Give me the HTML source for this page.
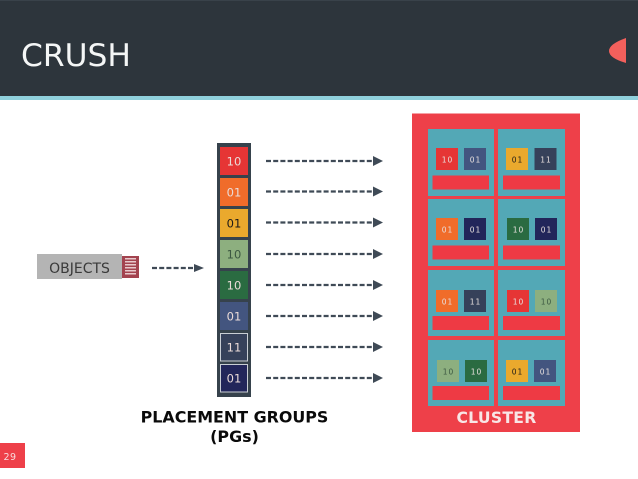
<!DOCTYPE html>
<html><head><meta charset="utf-8"><style>
html,body{margin:0;padding:0;background:#fff;width:638px;height:479px;overflow:hidden}
svg{display:block}
text{font-family:"DejaVu Sans","Liberation Sans",sans-serif;text-anchor:middle}
.c{font-size:11.5px;fill:#eadbd8}
.s{font-size:7.5px;fill:#e8e0de;letter-spacing:1px}
.d{fill:#1d1a18}
.g{fill:#3c5842}
.dash{stroke:#3f4a56;stroke-width:2.2;stroke-dasharray:5 2.2;fill:none}
.ah{fill:#3f4a56}
.node{fill:#53a8b6}
.bar{fill:#ee3a44}
</style></head><body>
<svg width="638" height="479" viewBox="0 0 638 479" xmlns="http://www.w3.org/2000/svg">
<rect width="638" height="479" fill="#fff"/>
<rect width="638" height="96" fill="#2d353c"/>
<rect width="638" height="1" fill="#39424a"/>
<rect y="96" width="638" height="4" fill="#8fd0dc"/>
<text x="76" y="66" style="font-size:31.3px" fill="#f4f6f6">CRUSH</text>
<path d="M626 38 Q609 44 609 51 Q609 58 626 63 Z" fill="#f2605c"/>

<rect x="37" y="254" width="85" height="25" fill="#b4b4b4"/>
<text x="79.500" y="273" style="font-size:14px" fill="#3a3a3a">OBJECTS</text>
<rect x="122" y="256" width="17" height="22" fill="#a3434f"/>
<g fill="#e8c9cc"><rect x="125" y="258" width="11" height="1.500"/><rect x="125" y="261" width="11" height="1.500"/><rect x="125" y="264" width="11" height="1.500"/><rect x="125" y="267" width="11" height="1.500"/><rect x="125" y="270" width="11" height="1.500"/><rect x="125" y="273" width="11" height="1.500"/></g>
<line class="dash" x1="152" y1="268" x2="195" y2="268"/><path class="ah" d="M194 264 L204 268 L194 272 Z"/>

<rect x="217" y="143" width="34" height="254" fill="#36424c"/>
<rect x="220" y="147" width="28" height="28" fill="#e63535"/><text class="c" x="234" y="165.500">10</text>
<rect x="220" y="178" width="28" height="28" fill="#f06c2a"/><text class="c" x="234" y="196.500">01</text>
<rect x="220" y="209" width="28" height="28" fill="#eaa92d"/><text class="c d" x="234" y="227.500">01</text>
<rect x="220" y="240" width="28" height="28" fill="#8daf7f"/><text class="c g" x="234" y="258.500">10</text>
<rect x="220" y="271" width="28" height="28" fill="#2a6b41"/><text class="c" x="234" y="289.500">10</text>
<rect x="220" y="302" width="28" height="28" fill="#43557f"/><text class="c" x="234" y="320.500">01</text>
<rect x="220.500" y="333.500" width="27" height="27.500" fill="#36415a" stroke="#c9ced4"/><text class="c" x="234" y="351.500">11</text>
<rect x="220.500" y="364.500" width="27" height="27.500" fill="#22265a" stroke="#c9ced4"/><text class="c" x="234" y="382.500">01</text>

<line class="dash" x1="266" y1="161" x2="374" y2="161"/><path class="ah" d="M373 156 L383 161 L373 166 Z"/>
<line class="dash" x1="266" y1="191.500" x2="374" y2="191.500"/><path class="ah" d="M373 186.500 L383 191.500 L373 196.500 Z"/>
<line class="dash" x1="266" y1="222.500" x2="374" y2="222.500"/><path class="ah" d="M373 217.500 L383 222.500 L373 227.500 Z"/>
<line class="dash" x1="266" y1="254" x2="374" y2="254"/><path class="ah" d="M373 249 L383 254 L373 259 Z"/>
<line class="dash" x1="266" y1="285" x2="374" y2="285"/><path class="ah" d="M373 280 L383 285 L373 290 Z"/>
<line class="dash" x1="266" y1="316" x2="374" y2="316"/><path class="ah" d="M373 311 L383 316 L373 321 Z"/>
<line class="dash" x1="266" y1="347" x2="374" y2="347"/><path class="ah" d="M373 342 L383 347 L373 352 Z"/>
<line class="dash" x1="266" y1="378" x2="374" y2="378"/><path class="ah" d="M373 373 L383 378 L373 383 Z"/>

<text x="234.500" y="422.500" style="font-size:15.9px;font-weight:bold" fill="#0a0a0a">PLACEMENT GROUPS</text>
<text x="234.500" y="442" style="font-size:15.9px;font-weight:bold" fill="#0a0a0a">(PGs)</text>

<rect x="412" y="113.500" width="168" height="318.500" fill="#ee4049"/>
<rect class="node" x="428" y="129" width="66" height="67"/><rect class="node" x="498" y="129" width="67" height="67"/>
<rect class="node" x="428" y="199" width="66" height="67"/><rect class="node" x="498" y="199" width="67" height="67"/>
<rect class="node" x="428" y="270" width="66" height="66"/><rect class="node" x="498" y="270" width="67" height="66"/>
<rect class="node" x="428" y="340" width="66" height="66"/><rect class="node" x="498" y="340" width="67" height="66"/>

<rect class="bar" x="432.500" y="175.500" width="56.500" height="14"/><rect class="bar" x="503" y="175.500" width="57" height="14"/>
<rect class="bar" x="432.500" y="245.500" width="56.500" height="14"/><rect class="bar" x="503" y="245.500" width="57" height="14"/>
<rect class="bar" x="432.500" y="316" width="56.500" height="14"/><rect class="bar" x="503" y="316" width="57" height="14"/>
<rect class="bar" x="432.500" y="386" width="56.500" height="14"/><rect class="bar" x="503" y="386" width="57" height="14"/>

<rect x="436" y="148" width="22" height="22" fill="#e63535"/><text class="s" x="447.500" y="162.500">10</text>
<rect x="464" y="148" width="22" height="22" fill="#43557f"/><text class="s" x="475.500" y="162.500">01</text>
<rect x="506" y="148" width="22" height="22" fill="#eaa92d"/><text class="s d" x="517.500" y="162.500">01</text>
<rect x="534.500" y="148" width="22" height="22" fill="#36415a"/><text class="s" x="546" y="162.500">11</text>

<rect x="436" y="218" width="22" height="22" fill="#f06c2a"/><text class="s" x="447.500" y="232.500">01</text>
<rect x="464" y="218" width="22" height="22" fill="#22265a"/><text class="s" x="475.500" y="232.500">01</text>
<rect x="507" y="218" width="22" height="22" fill="#2a6b41"/><text class="s" x="518.500" y="232.500">10</text>
<rect x="535" y="218" width="22" height="22" fill="#22265a"/><text class="s" x="546.500" y="232.500">01</text>

<rect x="436" y="290" width="22" height="22" fill="#f06c2a"/><text class="s" x="447.500" y="304.500">01</text>
<rect x="464" y="290" width="22" height="22" fill="#36415a"/><text class="s" x="475.500" y="304.500">11</text>
<rect x="507" y="290" width="22" height="22" fill="#e63535"/><text class="s" x="518.500" y="304.500">10</text>
<rect x="535" y="290" width="22" height="22" fill="#8daf7f"/><text class="s g" x="546.500" y="304.500">10</text>

<rect x="437" y="360" width="22" height="22" fill="#8daf7f"/><text class="s g" x="448.500" y="374.500">10</text>
<rect x="465" y="360" width="22" height="22" fill="#2a6b41"/><text class="s" x="476.500" y="374.500">10</text>
<rect x="506" y="360" width="22" height="22" fill="#eaa92d"/><text class="s d" x="517.500" y="374.500">01</text>
<rect x="534" y="360" width="22" height="22" fill="#43557f"/><text class="s" x="545.500" y="374.500">01</text>

<text x="496.500" y="423" style="font-size:15.6px;font-weight:bold;letter-spacing:.3px" fill="#f8e6e6">CLUSTER</text>

<rect x="0" y="443" width="25" height="25" fill="#ee4049"/>
<text x="10" y="460" style="font-size:9.500px;letter-spacing:.4px" fill="#f8dcdc">29</text>
</svg>
</body></html>
